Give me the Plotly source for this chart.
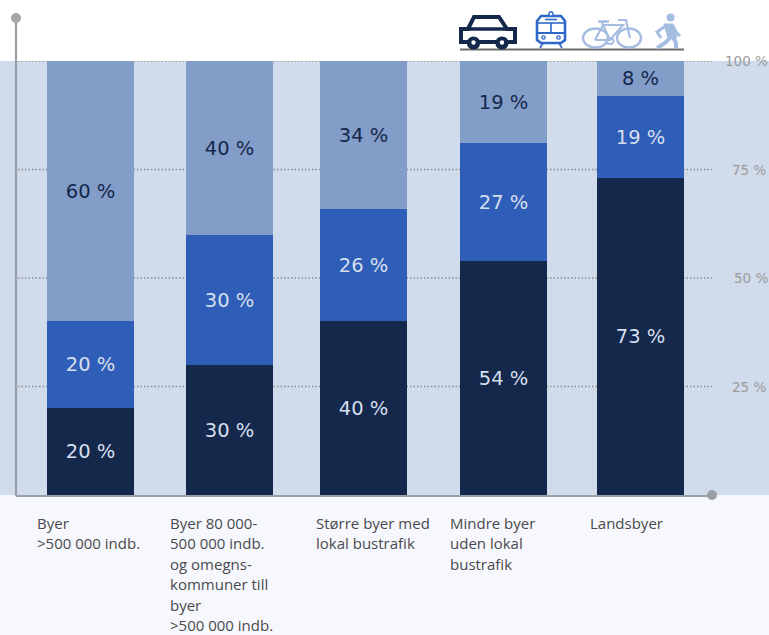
import plotly.graph_objects as go

W, H = 769, 635
TOP, BOTTOM = 61, 495  # plot band edges in page pixels

# Data
categories = ["Byer >500 000 indb.", "Byer 80 000-500 000 indb. og omegnskommuner",
              "Større byer med lokal bustrafik", "Mindre byer uden lokal bustrafik", "Landsbyer"]
category_lines = [
    ["Byer", ">500 000 indb."],
    ["Byer 80 000-", "500 000 indb.", "og omegns-", "kommuner till", "byer", ">500 000 indb."],
    ["Større byer med", "lokal bustrafik"],
    ["Mindre byer", "uden lokal", "bustrafik"],
    ["Landsbyer"],
]
car = [20, 30, 40, 54, 73]
public_transport = [20, 30, 26, 27, 19]
bike_walk = [60, 40, 34, 19, 8]
tick_values = [25, 50, 75, 100]
tick_labels = ["25 %", "50 %", "75 %", "100 %"]
tick_right_edges = [767, 768.5, 767, 768.5]

bar_centers = [90.5, 229.5, 363.5, 503.5, 640.5]
label_lefts = [35, 168, 314, 448, 588]
BAR_WIDTH = 87

DARK, MID, LIGHT = "#14284c", "#2f5eb8", "#839dc9"
TRAIN, SOFT = "#2f68c8", "#a6bde2"
BAND, FOOT = "#d0dbec", "#f6f8fd"
AXIS, DOTS, TICK = "#9a9ea6", "#8e8e8e", "#9a9a9a"
VALUE_FONT = "DejaVu Sans"
NAME_FONT = "Open Sans"


def px(x):
    return x / W


def py(y):
    return (BOTTOM - y) / (BOTTOM - TOP)


def path(points, close=False):
    d = "M" + " L".join(f"{px(x):.5f},{py(y):.5f}" for x, y in points)
    return d + (" Z" if close else "")


def line_shape(points, color, width, fill=None, close=False):
    return dict(type="path", xref="paper", yref="paper", path=path(points, close),
                line=dict(color=color, width=width), fillcolor=fill or "rgba(0,0,0,0)",
                layer="above")


def dot(cx, cy, rx, color, outline=None, width=0, ry=None):
    ry = rx if ry is None else ry
    return dict(type="circle", xref="paper", yref="paper",
                x0=px(cx - rx), x1=px(cx + rx), y0=py(cy + ry), y1=py(cy - ry),
                fillcolor=color, line=dict(color=outline or color, width=width), layer="above")


def rect(x0, y0, x1, y1, color, layer="below"):
    return dict(type="rect", xref="paper", yref="paper", x0=px(x0), x1=px(x1),
                y0=py(y1), y1=py(y0), fillcolor=color, line=dict(width=0), layer=layer)


fig = go.Figure()
for name, values, color, text_color in [
    ("Bil", car, DARK, "#d6dfee"),
    ("Kollektiv", public_transport, MID, "#d6dfee"),
    ("Cykel og gang", bike_walk, LIGHT, DARK),
]:
    fig.add_bar(x=bar_centers, y=values, width=BAR_WIDTH, name=name, marker=dict(color=color, line_width=0),
                customdata=categories, text=[f"{v} %" for v in values], textposition="inside",
                insidetextanchor="middle", textangle=0,
                textfont=dict(family=VALUE_FONT, size=19.5, color=text_color), cliponaxis=False)

shapes = [rect(0, BOTTOM, W, H, FOOT), rect(0, 0, W, TOP, "#ffffff")]

# Dotted reference lines behind the bars
for v in tick_values:
    shapes.append(dict(type="line", xref="x", yref="y", x0=18, x1=712, y0=v, y1=v, layer="below",
                       line=dict(color=DOTS, width=1.5, dash="1.5px,2px")))

# Axes with round end caps
shapes += [
    line_shape([(16, 18), (16, BOTTOM + 1)], AXIS, 2.2),
    line_shape([(16, BOTTOM + 1), (712, BOTTOM + 1)], AXIS, 2.2),
    dot(16, 18, 5, "#a8a8a8"),
    dot(712, BOTTOM, 5, AXIS),
]

# Transport icons on their ground line
shapes.append(line_shape([(460, 49.5), (684, 49.5)], "#6a6a6a", 2))

# Car
shapes += [
    line_shape([(461, 29), (468, 29), (474, 17), (499, 17), (507, 29), (515, 29), (515, 42),
                (461, 42)], DARK, 4, close=True, fill="#ffffff"),
    line_shape([(468, 29), (507, 29)], DARK, 3.6),
    dot(473.5, 43, 6.6, DARK), dot(502, 43, 6.6, DARK),
    dot(473.5, 42.5, 2.2, "#ffffff"), dot(502, 42.5, 2.2, "#ffffff"),
]

# Train
shapes += [
    line_shape([(537, 21), (541, 16), (561, 16), (565, 21), (565, 40), (561, 43), (541, 43), (537, 40)],
               TRAIN, 2.6, close=True, fill="#ffffff"),
    line_shape([(537, 23), (565, 23)], TRAIN, 1.6),
    line_shape([(537, 33), (565, 33)], TRAIN, 2),
    line_shape([(551, 23), (551, 33)], TRAIN, 1.6),
    line_shape([(545, 19.5), (557, 19.5)], TRAIN, 1.6),
    dot(551, 14, 2.2, "#ffffff", TRAIN, 1.4),
    dot(543.5, 37.5, 1.7, "#ffffff", TRAIN, 1.3), dot(558.5, 37.5, 1.7, "#ffffff", TRAIN, 1.3),
    line_shape([(540, 48), (543, 43)], TRAIN, 1.6),
    line_shape([(562, 48), (559, 43)], TRAIN, 1.6),
]

# Bicycle
shapes += [
    dot(595.5, 38, 12.5, "rgba(0,0,0,0)", SOFT, 2.4, ry=9.5),
    dot(629, 38, 12, "rgba(0,0,0,0)", SOFT, 2.4, ry=9.5),
    dot(610, 41, 3.6, "rgba(0,0,0,0)", SOFT, 2, ry=3),
    line_shape([(595, 40), (603, 25), (623, 25), (610, 40), (595, 40)], SOFT, 2.2),
    line_shape([(603, 25), (610, 40)], SOFT, 2.2),
    line_shape([(598, 21.5), (609, 21.5)], SOFT, 2.6),
    line_shape([(602, 22), (603, 26)], SOFT, 2.2),
    line_shape([(618, 20), (626, 20), (630, 38)], SOFT, 2.2),
]

# Walking figure
shapes += [
    dot(670.5, 17.5, 4, SOFT),
    line_shape([(664, 24), (673, 24), (677, 38), (668, 38)], SOFT, 1, close=True, fill=SOFT),
    line_shape([(667, 25), (657, 32), (661, 38)], SOFT, 3),
    line_shape([(673, 26), (676, 32), (680, 36)], SOFT, 3),
    line_shape([(671, 37), (665, 43), (657, 48)], SOFT, 4),
    line_shape([(673, 37), (676, 43), (676, 48)], SOFT, 4),
]

# Category names, one annotation per printed line
annotations = []
LINE_STEP = 20.5
for left, lines in zip(label_lefts, category_lines):
    for i, text in enumerate(lines):
        annotations.append(dict(x=left, y=py(522.5 + i * LINE_STEP), xref="x", yref="paper", text=text,
                                showarrow=False, xanchor="left", yanchor="middle", align="left",
                                font=dict(family=NAME_FONT, size=15, color="#4a4a4c")))

# Percent scale at the right edge
for v, text, right in zip(tick_values, tick_labels, tick_right_edges):
    annotations.append(dict(x=right, y=v, xref="x", yref="y", text=text, showarrow=False,
                            xanchor="right", yanchor="middle", borderpad=0,
                            font=dict(family=VALUE_FONT, size=13.5, color=TICK)))

fig.update_layout(
    width=W, height=H, barmode="stack", showlegend=False, bargap=0,
    margin=dict(l=0, r=0, t=TOP, b=H - BOTTOM, pad=0),
    paper_bgcolor="#ffffff", plot_bgcolor=BAND,
    shapes=shapes, annotations=annotations,
    xaxis=dict(range=[0, W], visible=False, fixedrange=True),
    yaxis=dict(range=[0, 100], showticklabels=False, showgrid=False, zeroline=False, showline=False,
               ticks="", fixedrange=True),
)

fig.write_html("out.html", config=dict(displayModeBar=False))
